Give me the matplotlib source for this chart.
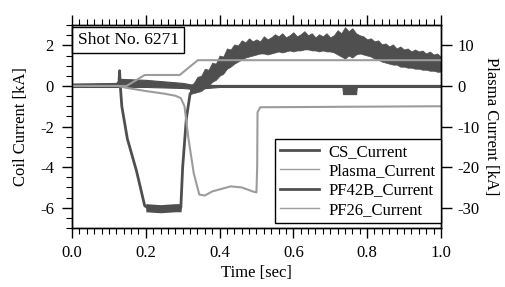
#!/usr/bin/env python3
# Coil / plasma currents for shot 6271

import matplotlib
matplotlib.use("Agg")
import matplotlib.pyplot as plt
from matplotlib.ticker import MultipleLocator
from matplotlib.lines import Line2D

#----------------------#
# Data   #
#----------------------#

# CS current [kA], main trace (left axis)
cs_t = [0.0, 0.127, 0.129, 0.131, 0.135, 0.15, 0.175, 0.197, 0.205, 0.295,
        0.300, 0.310, 0.320, 0.330]
cs_v = [0.05, 0.05, 0.75, 0.0, -1.0, -2.6, -4.2, -5.9, -6.0, -6.0,
        -4.0, -1.6, -0.4, -0.1]

# CS current noisy band (flat bottom and after 0.32 s)
cs_bot_t = [0.20, 0.24, 0.28, 0.296]
cs_bot_lo = [-6.2, -6.25, -6.2, -6.2]
cs_bot_hi = [-5.8, -5.85, -5.8, -5.8]

cs_env_t = [0.32, 0.33, 0.34, 0.35, 0.36, 0.37, 0.38, 0.39, 0.40, 0.41,
            0.42, 0.43, 0.44, 0.45, 0.46, 0.47, 0.48, 0.49, 0.50, 0.51,
            0.52, 0.53, 0.54, 0.55, 0.56, 0.57, 0.58, 0.59, 0.60, 0.61,
            0.62, 0.63, 0.64, 0.65, 0.66, 0.67, 0.68, 0.69, 0.70, 0.71,
            0.72, 0.73, 0.74, 0.75, 0.76, 0.77, 0.78, 0.79, 0.80, 0.81,
            0.82, 0.83, 0.84, 0.85, 0.86, 0.87, 0.88, 0.89, 0.90, 0.91,
            0.92, 0.93, 0.94, 0.95, 0.96, 0.97, 0.98, 0.99, 1.00]
cs_env_lo = [-0.4, -0.35, -0.3, -0.25, -0.1, 0.0, 0.2, 0.3, 0.5, 0.6,
             0.85, 0.95, 1.1, 1.2, 1.3, 1.4, 1.45, 1.5, 1.55, 1.6,
             1.6, 1.55, 1.6, 1.65, 1.7, 1.65, 1.7, 1.75, 1.7, 1.75,
             1.75, 1.8, 1.8, 1.75, 1.75, 1.7, 1.75, 1.7, 1.7, 1.65,
             1.55, 1.45, 1.35, 1.5, 1.4, 1.55, 1.6, 1.55, 1.5, 1.45,
             1.35, 1.3, 1.2, 1.15, 1.1, 1.05, 1.05, 0.95, 0.95, 0.9,
             0.9, 0.85, 0.85, 0.8, 0.8, 0.75, 0.75, 0.7, 0.7]
cs_env_hi = [0.0, 0.15, 0.45, 0.5, 0.85, 0.8, 1.15, 1.1, 1.5, 1.45,
             1.85, 1.8, 2.05, 2.0, 2.25, 2.15, 2.35, 2.2, 2.3, 2.2,
             2.45, 2.3, 2.4, 2.55, 2.45, 2.6, 2.4, 2.5, 2.65, 2.45,
             2.55, 2.7, 2.5, 2.6, 2.4, 2.55, 2.45, 2.6, 2.4, 2.5,
             2.75, 2.6, 2.9, 2.7, 2.85, 2.6, 2.5, 2.45, 2.3, 2.35,
             2.2, 2.25, 2.05, 2.1, 1.95, 2.05, 1.85, 1.95, 1.8, 1.85,
             1.7, 1.8, 1.7, 1.75, 1.6, 1.7, 1.55, 1.6, 1.45]

# Plasma current [kA] (right axis)
ip_t = [0.0, 0.148, 0.197, 0.292, 0.341, 1.0]
ip_v = [0.0, 0.0, 2.7, 2.7, 6.35, 6.35]

# PF42B current [kA] (left axis), envelope
pf42_t = [0.0, 0.12, 0.13, 0.20, 0.30, 0.33, 0.40, 0.733, 0.735, 0.770,
          0.772, 1.0]
pf42_lo = [-0.05, -0.05, -0.05, -0.05, -0.1, -0.15, -0.05, -0.05, -0.4, -0.4,
           -0.05, -0.05]
pf42_hi = [0.1, 0.15, 0.35, 0.3, 0.15, 0.05, 0.05, 0.05, 0.05, 0.05,
           0.05, 0.05]

# PF26 current [kA] (left axis)
pf26_t = [0.0, 0.125, 0.15, 0.2, 0.25, 0.28, 0.295, 0.305, 0.315, 0.33,
          0.345, 0.36, 0.38, 0.40, 0.43, 0.46, 0.49, 0.50, 0.502, 0.503,
          0.51, 1.0]
pf26_v = [0.0, 0.0, -0.1, -0.25, -0.38, -0.48, -0.6, -1.0, -2.5, -4.3,
          -5.35, -5.4, -5.2, -5.1, -4.95, -5.0, -5.2, -5.25, -4.0, -1.3,
          -1.05, -1.0]

#----------------------#
# Plot                 #
#----------------------#

plt.rcParams['font.family'] = ['Liberation Serif', 'DejaVu Serif']
plt.rcParams['font.size'] = 12
plt.rcParams['axes.unicode_minus'] = False

dark = "#4f4f4f"
light = "#9c9c9c"

fig = plt.figure(figsize=(5.06, 2.87), dpi=100)
ax = fig.add_axes([0.1423, 0.2056, 0.729, 0.707])
ax2 = ax.twinx()

# left axis traces
ax.plot(cs_t, cs_v, color=dark, lw=2.0)
ax.fill_between(cs_bot_t, cs_bot_lo, cs_bot_hi, color=dark, lw=0)
ax.fill_between(cs_env_t, cs_env_lo, cs_env_hi, color=dark, lw=0.5)
ax.fill_between(pf42_t, pf42_lo, pf42_hi, color=dark, lw=0.8)
ax.plot(pf26_t, pf26_v, color=light, lw=1.5)

# right axis trace
ax2.plot(ip_t, ip_v, color=light, lw=1.5)

ax.set_xlim(0.0, 1.0)
ax.set_ylim(-7, 3)
ax2.set_ylim(-35, 15)

ax.xaxis.set_major_locator(MultipleLocator(0.2))
ax.xaxis.set_minor_locator(MultipleLocator(0.02))
ax.xaxis.set_major_formatter(plt.FormatStrFormatter('%.1f'))
ax.yaxis.set_major_locator(MultipleLocator(2))
ax.yaxis.set_minor_locator(MultipleLocator(0.5))
ax2.yaxis.set_major_locator(MultipleLocator(10))
ax2.yaxis.set_minor_locator(plt.NullLocator())

ax.tick_params(axis='x', which='both', direction='out', top=True,
               color='black', pad=5)
ax.tick_params(axis='x', which='major', length=7, width=1)
ax.tick_params(axis='x', which='minor', length=4, width=0.8)
ax.tick_params(axis='y', which='major', direction='out', length=7, width=1,
               pad=6)
ax.tick_params(axis='y', which='minor', direction='out', length=4, width=0.8)
ax2.tick_params(axis='y', which='major', direction='out', length=8, width=1,
                pad=4)

for sp in list(ax.spines.values()) + list(ax2.spines.values()):
    sp.set_linewidth(1.0)

ax.set_xlabel("Time [sec]", labelpad=3)
ax.set_ylabel("Coil Current [kA]", labelpad=8)
ax2.set_ylabel("Plasma Current [kA]", rotation=270, labelpad=14)

ax.text(0.015, 0.965, "Shot No. 6271", transform=ax.transAxes,
        va='top', ha='left', fontsize=12.5, zorder=5,
        bbox=dict(boxstyle='square,pad=0.3', fc='white', ec='black', lw=1))

handles = [Line2D([], [], color=dark, lw=2.0),
           Line2D([], [], color=light, lw=1.0),
           Line2D([], [], color=dark, lw=2.0),
           Line2D([], [], color=light, lw=1.0)]
labels = ["CS_Current", "Plasma_Current", "PF42B_Current", "PF26_Current"]
leg = ax2.legend(handles, labels, loc='lower right',
                 bbox_to_anchor=(1.0, 0.025), fancybox=False, framealpha=1,
                 edgecolor='black', fontsize=12, handlelength=2.3,
                 labelspacing=0.2, borderpad=0.3, borderaxespad=0.0,
                 handletextpad=0.6)
leg.get_frame().set_linewidth(1.0)

fig.savefig("out.png", dpi=100)
